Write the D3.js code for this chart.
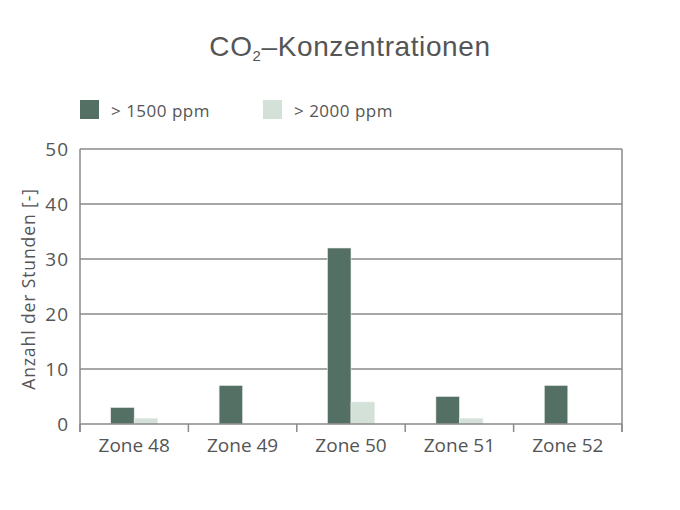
<!DOCTYPE html>
<html><head><meta charset="utf-8">
<script src="https://cdn.jsdelivr.net/npm/d3@7"></script>
<style>body{margin:0;background:#fff}svg{display:block}</style>
</head><body>
<svg id="c" width="680" height="510"></svg>
<script>
const categories = ["Zone 48","Zone 49","Zone 50","Zone 51","Zone 52"];
const seriesNames = ["> 1500 ppm","> 2000 ppm"];
const over1500 = [3,7,32,5,7];
const over2000 = [1,0,4,1,0];
const yTicks = [0,10,20,30,40,50];
const colors = ["#546f63","#d4e1d9"];

const svg = d3.select("#c");
const font = "'Open Sans', Lato, sans-serif";
const M = {l:80, r:622, t:149, b:424};
const x = d3.scaleBand().domain(categories).range([M.l, M.r]);
const x1 = d3.scaleBand().domain(seriesNames).range([0, 47]);
const y = d3.scaleLinear().domain([0,50]).range([M.b, M.t]);

// gridlines
svg.append("g").selectAll("line").data(yTicks.filter(d=>d>0)).join("line")
  .attr("x1",M.l).attr("x2",M.r).attr("y1",d=>y(d)).attr("y2",d=>y(d))
  .attr("stroke","#8a8a8a").attr("stroke-width",1.3);

// bars
const data = categories.map((c,i)=>({c, v:[over1500[i], over2000[i]]}));
const g = svg.append("g");
data.forEach(d=>{
  const off = x(d.c) + (x.bandwidth()-47)/2;
  d.v.forEach((v,j)=>{
    if (v<=0) return;
    g.append("rect").attr("x", off + x1(seriesNames[j])).attr("y", y(v))
      .attr("width", x1.bandwidth()).attr("height", y(0)-y(v))
      .attr("fill", colors[j]).attr("stroke","#e8ecea").attr("stroke-width",0.6);
  });
});

// left & right axis lines
svg.append("line").attr("x1",M.l).attr("x2",M.l).attr("y1",M.t).attr("y2",M.b+8).attr("stroke","#8a8a8a").attr("stroke-width",1.5);
svg.append("line").attr("x1",M.r).attr("x2",M.r).attr("y1",M.t).attr("y2",M.b+8).attr("stroke","#8a8a8a").attr("stroke-width",1.5);
// zero line
svg.append("line").attr("x1",M.l).attr("x2",M.r).attr("y1",y(0)).attr("y2",y(0)).attr("stroke","#8a8a8a").attr("stroke-width",1.5);

// x ticks at band boundaries
const bounds = categories.map(c=>x(c)).concat([M.r]);
svg.append("g").selectAll("line").data(bounds).join("line")
  .attr("x1",d=>d).attr("x2",d=>d).attr("y1",y(0)).attr("y2",y(0)+8)
  .attr("stroke","#8a8a8a").attr("stroke-width",1.5);

// x labels
svg.append("g").selectAll("text").data(categories).join("text")
  .attr("x",d=>x(d)+x.bandwidth()/2).attr("y",452).attr("text-anchor","middle")
  .attr("font-family",font).attr("font-size",19).attr("fill","#555").text(d=>d);

// y labels
svg.append("g").selectAll("text").data(yTicks).join("text")
  .attr("x",69).attr("y",d=>y(d)+6.5).attr("text-anchor","end")
  .attr("font-family",font).attr("font-size",19).attr("letter-spacing",1).attr("fill","#555").text(d=>d);

// y title
svg.append("text").attr("transform","translate(35,289) rotate(-90)").attr("text-anchor","middle")
  .attr("font-family",font).attr("font-size",17.5).attr("letter-spacing",0.9).attr("fill","#555").text("Anzahl der Stunden [-]");

// title
const t = svg.append("text").attr("x",350).attr("y",56).attr("text-anchor","middle")
  .attr("font-family","'Liberation Sans', Arial, sans-serif").attr("font-size",28).attr("letter-spacing",0.6).attr("fill","#555");
t.append("tspan").text("CO");
t.append("tspan").attr("font-size",15).attr("dy",5).text("2");
t.append("tspan").attr("dy",-5).text("\u2013Konzentrationen");

// legend
const lx = [80, 263];
seriesNames.forEach((s,i)=>{
  svg.append("rect").attr("x",lx[i]).attr("y",100).attr("width",19).attr("height",19).attr("fill",colors[i]);
  svg.append("text").attr("x",lx[i]+31).attr("y",117).attr("font-family",font).attr("font-size",17).attr("letter-spacing",0.5).attr("fill","#555").text(s);
});
</script>
</body></html>
